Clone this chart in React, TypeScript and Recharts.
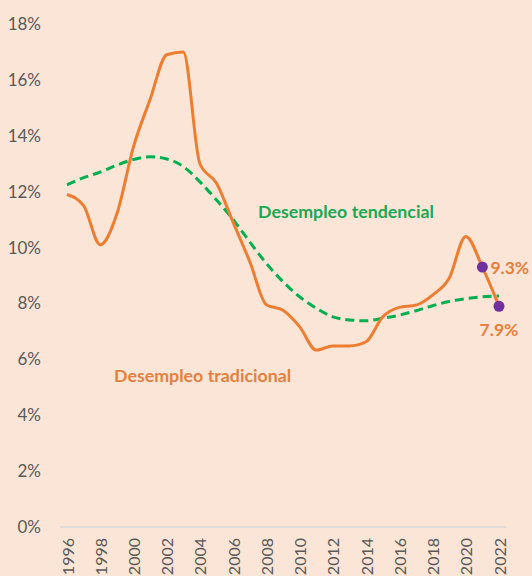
import { LineChart, Line, XAxis, YAxis, LabelList } from "recharts";

const years = [
  "1996", "1997", "1998", "1999", "2000", "2001", "2002", "2003", "2004",
  "2005", "2006", "2007", "2008", "2009", "2010", "2011", "2012", "2013",
  "2014", "2015", "2016", "2017", "2018", "2019", "2020", "2021", "2022",
];

// desempleo tradicional (%)
const tradicional = [
  11.9, 11.5, 10.1, 11.2, 13.6, 15.3, 16.9, 17.0, 13.0,
  12.3, 10.9, 9.5, 7.95, 7.76, 7.17, 6.33, 6.48, 6.48,
  6.63, 7.52, 7.86, 7.94, 8.3, 8.9, 10.4, 9.3, 7.9,
];

// desempleo tendencial (%)
const tendencial = [
  12.24, 12.5, 12.7, 12.95, 13.15, 13.25, 13.17, 12.9, 12.35,
  11.7, 11.0, 10.2, 9.43, 8.78, 8.24, 7.83, 7.52, 7.41,
  7.38, 7.47, 7.58, 7.74, 7.92, 8.07, 8.17, 8.24, 8.27,
];

const puntoYears = ["2021", "2022"];
const yTicks = [0, 2, 4, 6, 8, 10, 12, 14, 16, 18];

const data = years.map((year, i) => ({
  year,
  tradicional: tradicional[i],
  tendencial: tendencial[i],
  punto: puntoYears.includes(year) ? tradicional[i] : null,
}));

const FONT = "Lato, 'Open Sans', sans-serif";
const ORANGE = "#ED7D31";
const GREEN = "#00B050";
const PURPLE = "#7030A0";
const GRAY = "#595959";

const YearTick = (props: any) => {
  const { x, y, payload } = props;
  return (
    <text
      x={x}
      y={y}
      transform={`rotate(-90, ${x}, ${y})`}
      textAnchor="end"
      dominantBaseline="central"
      fill={GRAY}
      fontSize={16}
      fontFamily={FONT}
    >
      {payload.value}
    </text>
  );
};

const PuntoLabel = (props: any) => {
  const { x, y, value, index } = props;
  if (value == null) return null;
  const last = index === years.length - 1;
  return (
    <text
      x={last ? x : x + 8}
      y={last ? y + 23 : y}
      textAnchor={last ? "middle" : "start"}
      dominantBaseline="central"
      fill="#E5803F"
      fontSize={17.5}
      fontWeight={700}
      fontFamily={FONT}
    >
      {`${value}%`}
    </text>
  );
};

export default function App() {
  return (
    <div
      style={{
        position: "absolute",
        left: 0,
        top: 0,
        width: 532,
        height: 576,
        background: "#FBE5D6",
        overflow: "hidden",
      }}
    >
      <LineChart
        width={532}
        height={576}
        data={data}
        margin={{ top: 24, right: 26, left: 0, bottom: 0 }}
      >
        <XAxis
          dataKey="year"
          interval={1}
          height={49}
          padding={{ left: 7, right: 7 }}
          axisLine={{ stroke: "#D9D9D9", strokeWidth: 1.5 }}
          tickLine={false}
          tickSize={0}
          tickMargin={11}
          tick={<YearTick />}
        />
        <YAxis
          domain={[0, 18]}
          ticks={yTicks}
          width={60}
          axisLine={false}
          tickLine={false}
          tickSize={0}
          tickMargin={19}
          tickFormatter={(v: number) => `${v}%`}
          tick={{ fill: GRAY, fontSize: 17, fontFamily: FONT }}
        />
        <Line
          type="monotone"
          dataKey="tendencial"
          stroke={GREEN}
          strokeWidth={3}
          strokeDasharray="9 5"
          dot={false}
          isAnimationActive={false}
        />
        <Line
          type="monotone"
          dataKey="tradicional"
          stroke={ORANGE}
          strokeWidth={3}
          dot={false}
          isAnimationActive={false}
        />
        <Line
          dataKey="punto"
          stroke="none"
          dot={{ r: 5.5, fill: PURPLE, stroke: "none" }}
          activeDot={false}
          isAnimationActive={false}
        >
          <LabelList dataKey="punto" content={<PuntoLabel />} />
        </Line>
      </LineChart>
      <div
        style={{
          position: "absolute",
          left: 258,
          top: 200,
          fontFamily: FONT,
          fontWeight: 700,
          fontSize: 17.8,
          color: "#1AA856",
          whiteSpace: "nowrap",
        }}
      >
        Desempleo tendencial
      </div>
      <div
        style={{
          position: "absolute",
          left: 114,
          top: 364,
          fontFamily: FONT,
          fontWeight: 700,
          fontSize: 17.8,
          color: "#E5803F",
          whiteSpace: "nowrap",
        }}
      >
        Desempleo tradicional
      </div>
    </div>
  );
}
